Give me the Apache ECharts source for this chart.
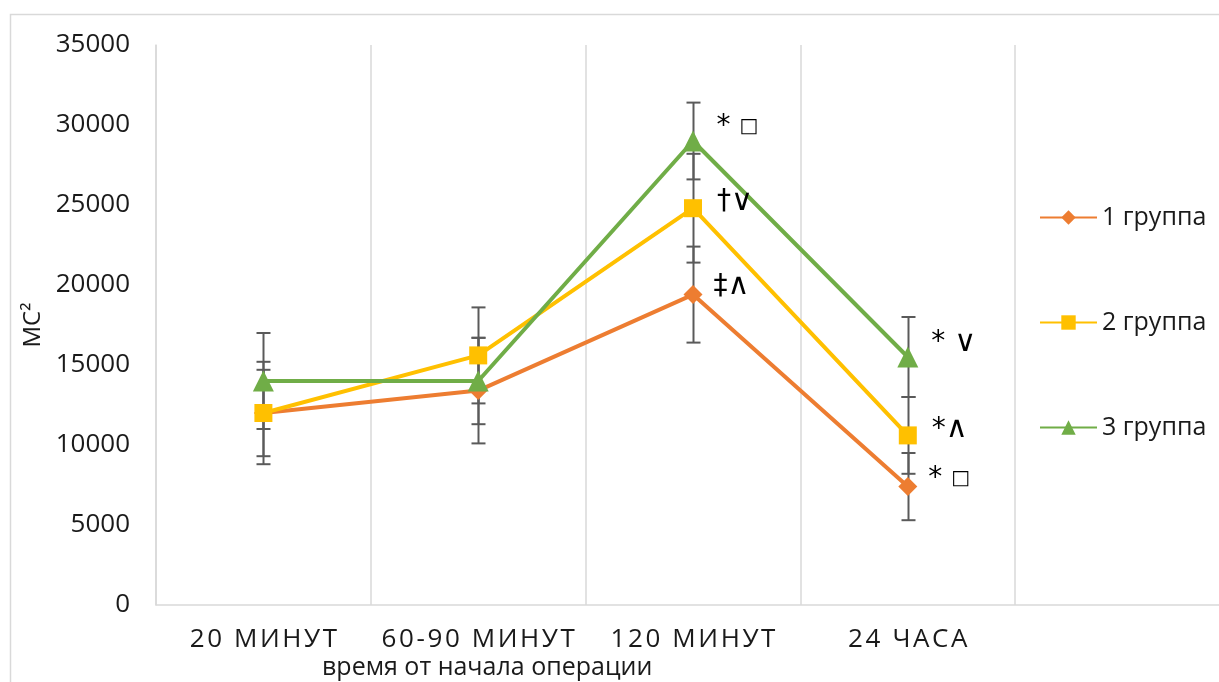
<!DOCTYPE html>
<html><head><meta charset="utf-8">
<script src="https://cdn.jsdelivr.net/npm/echarts@6/dist/echarts.min.js"></script>
<style>html,body{margin:0;padding:0;background:#fff;overflow:hidden;width:1219px;height:682px}#c{width:1234px;height:682px}</style>
</head><body><div id="c"></div>
<script>
const categories = ['20 МИНУТ', '60-90 МИНУТ', '120 МИНУТ', '24 ЧАСА', ''];
const seriesNames = ['1 группа', '2 группа', '3 группа'];
const group1 = [12000, 13400, 19400, 7400];
const group2 = [12000, 15600, 24800, 10600];
const group3 = [14000, 14000, 29000, 15500];
const err1 = [2700, 3300, 3000, 2100];
const err2 = [3200, 3000, 3400, 2400];
const err3 = [3000, 2700, 2400, 2500];
const notes1 = ['', '', '‡∧', '* □'];
const notes2 = ['', '', '†∨', '*∧'];
const notes3 = ['', '', '* □', '* ∨'];
const yTicks = {min: 0, max: 35000, interval: 5000};
const xTitle = 'время от начала операции';
const yTitle = 'МС²';

const colors = ['#ED7D31', '#FFC000', '#70AD47'];
const symbols = ['diamond', 'rect', 'triangle'];
const symSizes = [19, 18, 21];
const labelOffsets = [[6, -8], [10, -6], [8, -14]];
const values = [group1, group2, group3];
const errs = [err1, err2, err3];
const notes = [notes1, notes2, notes3];

const spaced = s => s.split('').join('\u200A');

const series = [];
values.forEach((vals, k) => {
  series.push({
    name: seriesNames[k] + '_err', type: 'custom', z: 1, silent: true,
    data: vals.map((v, i) => [i, v - errs[k][i], v + errs[k][i]]),
    renderItem: (params, api) => {
      const lo = api.coord([api.value(0), api.value(1)]);
      const hi = api.coord([api.value(0), api.value(2)]);
      const x = Math.round(lo[0]) + 0.5, w = 7;
      const st = {stroke: '#5a5a5a', lineWidth: 2};
      return {type: 'group', children: [
        {type: 'line', shape: {x1: x, y1: lo[1], x2: x, y2: hi[1]}, style: st},
        {type: 'line', shape: {x1: x - w, y1: lo[1], x2: x + w, y2: lo[1]}, style: st},
        {type: 'line', shape: {x1: x - w, y1: hi[1], x2: x + w, y2: hi[1]}, style: st}
      ]};
    }
  });
});
values.forEach((vals, k) => {
  series.push({
    name: seriesNames[k], type: 'line', z: 3, data: vals,
    symbol: symbols[k], symbolSize: symSizes[k],
    lineStyle: {width: 4, color: colors[k]},
    itemStyle: {color: colors[k]},
    label: {
      show: true, position: 'right', offset: labelOffsets[k],
      formatter: p => {
        const t = notes[k][p.dataIndex];
        if (!t) return '';
        return t.replace('□', '{s|□}').replace('∨', '{m|∨}').replace('∧', '{m|∧}');
      },
      fontSize: 28, color: '#000', fontFamily: 'DejaVu Sans',
      rich: {
        s: {fontSize: 20, color: '#000', fontFamily: 'DejaVu Sans'},
        m: {fontSize: 30, color: '#000', fontFamily: 'DejaVu Sans'}
      }
    }
  });
});

const chart = echarts.init(document.getElementById('c'), null, {renderer: 'canvas'});
chart.setOption({
  animation: false,
  backgroundColor: '#fff',
  color: colors,
  grid: {left: 156, top: 45, width: 1074, height: 560, containLabel: false},
  legend: {
    data: seriesNames, orient: 'vertical', left: 1034, top: 200, itemGap: 80,
    itemWidth: 57, itemHeight: 18,
    textStyle: {fontSize: 25, color: '#1a1a1a', fontFamily: 'Open Sans'}
  },
  xAxis: {
    type: 'category', data: categories, boundaryGap: true,
    axisLine: {show: true, lineStyle: {color: '#d9d9d9', width: 1.5}},
    axisTick: {show: false},
    splitLine: {show: true, lineStyle: {color: '#d9d9d9', width: 1.5}},
    axisLabel: {fontSize: 26, color: '#1a1a1a', margin: 22, fontFamily: 'Open Sans', formatter: v => spaced(v), interval: 0}
  },
  yAxis: {
    type: 'value', min: yTicks.min, max: yTicks.max, interval: yTicks.interval,
    splitLine: {show: false},
    axisLine: {show: true, lineStyle: {color: '#d9d9d9', width: 1.5}},
    axisTick: {show: false},
    axisLabel: {fontSize: 26, color: '#1a1a1a', margin: 26, fontFamily: 'Open Sans', formatter: v => String(v)},
    name: yTitle, nameLocation: 'middle', nameRotate: 90, nameGap: 110,
    nameTextStyle: {fontSize: 24, color: '#1a1a1a', fontFamily: 'Open Sans'}
  },
  graphic: [
    {type: 'rect', shape: {x: 10.5, y: 14.5, width: 1400, height: 1000}, style: {fill: 'none', stroke: '#d9d9d9', lineWidth: 1.5}, z: -1},
    {type: 'text', left: 322, top: 655, style: {text: xTitle, fontSize: 25, fill: '#1a1a1a', fontFamily: 'Open Sans'}}
  ],
  series: series
});
</script>
</body></html>
